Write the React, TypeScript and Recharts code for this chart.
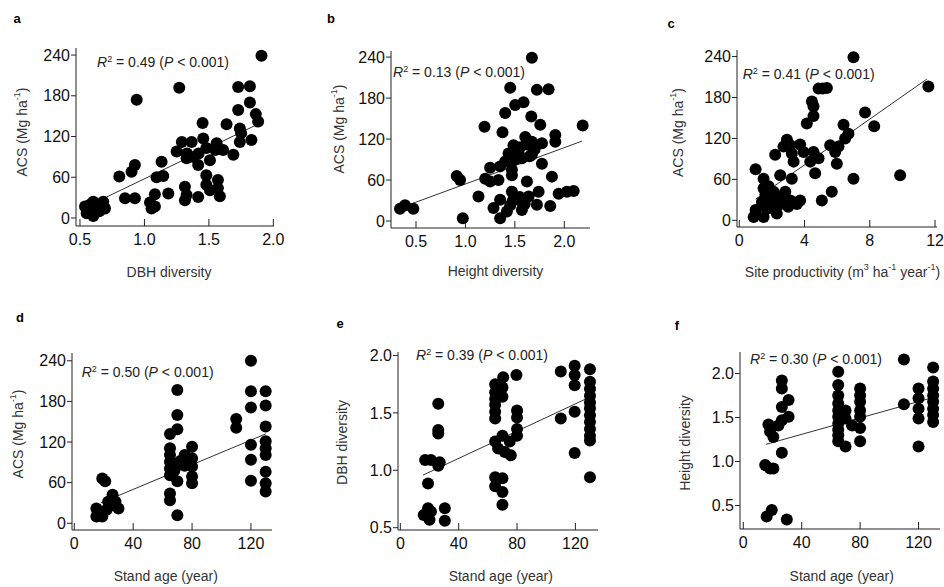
import React from 'react'
import { ScatterChart, Scatter, XAxis, YAxis, ReferenceLine, Label } from 'recharts'

type Pt = [number, number]

// a: DBH diversity vs ACS
const dbhAcs: Pt[] = [
  [1.908, 239], [1.27, 192], [0.94, 174], [1.727, 193], [1.818, 194], [1.818, 170], [1.727, 159],
  [1.864, 153], [1.882, 142], [1.451, 140], [1.637, 138], [1.74, 132], [1.75, 125], [1.83, 115],
  [1.74, 112], [1.456, 117], [1.366, 112], [1.29, 112], [1.25, 98], [1.56, 110], [1.61, 100],
  [1.69, 93], [1.48, 103], [1.508, 85], [1.417, 78], [1.327, 88], [1.133, 83], [0.926, 78],
  [0.9, 68], [0.805, 61], [1.094, 60], [1.146, 62], [1.48, 63], [1.48, 49], [1.57, 56], [1.57, 44],
  [1.508, 41], [1.585, 32], [1.314, 46], [1.327, 34], [1.417, 31], [1.314, 26], [1.185, 36],
  [1.081, 35], [1.043, 23], [1.055, 14], [0.926, 29], [0.849, 29], [0.68, 24], [0.694, 14],
  [0.603, 24], [0.539, 17], [0.552, 7], [0.603, 3], [0.616, 14], [1.081, 17], [1.33, 95],
  [1.38, 90], [1.42, 95], [1.55, 100], [0.58, 20], [0.65, 10],
]
const dbhAcsFit: Pt[] = [[0.62, 23], [1.9, 140]]

// b: height diversity vs ACS
const heightAcs: Pt[] = [
  [1.672, 239], [1.453, 195], [1.723, 192], [1.841, 193], [1.503, 170], [1.588, 174], [1.402, 158],
  [1.666, 153], [1.757, 141], [1.193, 138], [1.375, 130], [2.186, 140], [1.909, 126], [1.909, 116],
  [1.605, 123], [1.486, 111], [1.672, 116], [1.774, 114], [1.537, 101], [1.436, 99], [1.571, 92],
  [1.672, 97], [1.774, 84], [1.402, 87], [1.47, 75], [1.351, 80], [1.25, 78], [1.2, 62], [1.25, 58],
  [1.334, 60], [0.912, 66], [0.946, 60], [1.132, 36], [1.47, 67], [1.622, 58], [1.875, 65],
  [1.47, 43], [1.74, 43], [1.351, 31], [1.52, 33], [1.639, 36], [1.723, 24], [1.571, 28],
  [1.453, 23], [1.284, 19], [1.351, 4], [1.419, 14], [1.571, 16], [1.858, 22], [1.943, 40],
  [2.027, 43], [2.095, 44], [0.973, 4], [0.338, 18], [0.389, 23], [0.473, 18], [1.55, 108],
  [1.62, 112], [1.7, 105], [1.65, 95], [1.5, 90], [1.55, 35], [1.6, 25], [1.48, 30],
]
const heightAcsFit: Pt[] = [[0.45, 25], [2.18, 117]]

// c: site productivity vs ACS
const prodAcs: Pt[] = [
  [7.0, 239], [11.59, 196], [4.86, 193], [5.37, 194], [5.1, 193], [4.45, 174], [4.55, 167],
  [4.55, 153], [4.14, 142], [7.71, 158], [8.27, 138], [6.39, 140], [6.69, 127], [6.49, 120],
  [5.57, 110], [6.08, 108], [5.88, 100], [5.98, 83], [2.92, 118], [3.12, 110], [2.71, 108],
  [3.73, 111], [3.22, 98], [2.2, 96], [3.94, 100], [4.55, 100], [4.86, 91], [4.35, 86], [4.65, 69],
  [3.33, 86], [2.51, 66], [3.22, 61], [1.0, 75], [1.49, 61], [7.0, 61], [9.86, 66], [5.67, 42],
  [5.06, 29], [1.49, 47], [2.1, 42], [1.9, 32], [2.82, 42], [3.12, 29], [3.53, 24], [2.51, 24],
  [1.69, 17], [2.2, 15], [1.0, 15], [0.88, 5], [1.49, 5], [3.73, 29], [1.39, 27], [2.0, 20],
  [2.5, 35], [1.8, 50], [3.0, 20], [2.3, 10], [1.6, 38],
]
const prodAcsFit: Pt[] = [[1.0, 31], [11.5, 207]]

// d: stand age vs ACS
const ageAcs: Pt[] = [
  [120, 240], [70, 197], [120, 195], [130, 195], [130, 174], [120, 171], [70, 160], [110, 154],
  [110, 141], [70, 139], [130, 143], [65, 132], [130, 121], [130, 111], [130, 101], [120, 116],
  [120, 94], [120, 63], [130, 76], [130, 59], [130, 47], [65, 111], [65, 101], [65, 91], [65, 81],
  [65, 71], [67, 76], [70, 86], [74, 94], [75, 101], [80, 113], [80, 96], [80, 84], [80, 69],
  [80, 59], [70, 62], [65, 44], [65, 34], [70, 12], [19, 66], [21, 62], [26, 42], [28, 32],
  [30, 22], [26, 27], [22, 20], [15, 22], [15, 10], [19, 10], [18, 17], [23, 32], [68, 88],
  [72, 92], [75, 85], [68, 78],
]
const ageAcsFit: Pt[] = [[18, 30], [130, 132]]

// e: stand age vs DBH diversity
const ageDbh: Pt[] = [
  [26, 1.58], [26, 1.35], [26, 1.32], [17, 1.09], [21, 1.09], [27, 1.07], [26, 1.04], [19, 0.885],
  [16, 0.61], [19, 0.67], [21, 0.64], [20, 0.57], [30.5, 0.67], [30.5, 0.56], [70.5, 1.81],
  [79.6, 1.83], [65, 1.75], [65, 1.68], [65, 1.62], [65, 1.57], [65, 1.51], [65, 1.45], [70, 1.72],
  [70, 1.64], [80, 1.52], [80, 1.46], [80, 1.36], [80, 1.3], [70, 1.3], [75, 1.25], [65, 1.25],
  [67, 1.19], [71.6, 1.16], [75.7, 1.13], [65, 0.94], [70, 0.93], [65, 0.86], [70, 0.81], [70, 0.7],
  [110, 1.86], [119.5, 1.91], [119.5, 1.83], [119.5, 1.74], [119.5, 1.51], [119.5, 1.15],
  [110, 1.45], [130, 1.88], [130, 1.77], [130, 1.71], [130, 1.65], [130, 1.59], [130, 1.54],
  [130, 1.48], [130, 1.42], [130, 1.36], [130, 1.3], [130, 1.26], [130, 0.94],
]
const ageDbhFit: Pt[] = [[15.5, 0.958], [127, 1.62]]

// f: stand age vs height diversity
const ageHeight: Pt[] = [
  [110, 2.16], [130, 2.07], [65, 2.02], [65, 1.87], [65, 1.75], [65, 1.66], [65, 1.58], [65, 1.51],
  [65, 1.43], [65, 1.36], [65, 1.3], [65, 1.23], [70, 1.17], [70, 1.58], [70, 1.49], [74.5, 1.41],
  [80, 1.83], [80, 1.75], [80, 1.68], [80, 1.58], [80, 1.51], [80, 1.38], [80, 1.23], [110, 1.65],
  [120, 1.83], [120, 1.72], [120, 1.6], [120, 1.49], [120, 1.17], [130, 1.91], [130, 1.83],
  [130, 1.75], [130, 1.68], [130, 1.6], [130, 1.53], [130, 1.45], [26.4, 1.92], [26.4, 1.83],
  [26.4, 1.62], [31, 1.7], [31, 1.51], [26.4, 1.47], [24, 1.41], [17.2, 1.42], [18.3, 1.34],
  [20.6, 1.28], [26.4, 1.1], [15, 0.96], [18.3, 0.92], [20.6, 0.92], [19.5, 0.45], [16, 0.375],
  [29.8, 0.34],
]
const ageHeightFit: Pt[] = [[15.5, 1.195], [130, 1.728]]

const acsTicks = [0, 60, 120, 180, 240]
const diversityTicks = [0.5, 1.0, 1.5, 2.0]
const productivityTicks = [0, 4, 8, 12]
const ageTicks = [0, 40, 80, 120]

const YW = 72
const MT = 45
const MR = 16
const XH = 55
const FONT = 'Arial, "Liberation Sans", Helvetica, sans-serif'

const sup = (t: string) => (
  <tspan baselineShift="super" fontSize={9}>{t}</tspan>
)

const acsTitle = <>ACS (Mg ha{sup('-1')})</>

interface PanelProps {
  letter: string
  r2: string
  points: Pt[]
  fit: Pt[]
  box: { x0: number; y0: number; x1: number; y1: number }
  xDomain: [number, number]
  yDomain: [number, number]
  xTicks: number[]
  yTicks: number[]
  xDigits: number
  yDigits: number
  letterPos: Pt
  r2Pos: Pt
  yTitle: React.ReactNode
  yTitlePos: Pt
  xTitle: React.ReactNode
  xTitlePos: Pt
}

function Panel(p: PanelProps) {
  const left = p.box.x0 - YW
  const top = p.box.y0 - MT
  const width = p.box.x1 - p.box.x0 + YW + MR
  const height = p.box.y1 - p.box.y0 + MT + XH
  const data = p.points.map(([x, y]) => ({ x, y }))
  const lx = (v: number) => v - left
  const ly = (v: number) => v - top

  const yt = p.yTitlePos
  const xt = p.xTitlePos

  return (
    <div style={{ position: 'absolute', left, top }}>
      <ScatterChart width={width} height={height} margin={{ top: MT, right: MR, bottom: 0, left: 0 }}>
        <XAxis
          type="number"
          dataKey="x"
          domain={p.xDomain}
          ticks={p.xTicks}
          interval={0}
          allowDataOverflow
          height={XH}
          tickSize={-7}
          tickMargin={15}
          tickFormatter={(v: number) => v.toFixed(p.xDigits)}
          tick={{ fontSize: 16, fill: '#111', fontFamily: FONT }}
          axisLine={{ stroke: '#222' }}
          tickLine={{ stroke: '#222' }}
        >
          <Label
            content={() => (
              <text x={lx(xt[0])} y={ly(xt[1])} textAnchor="middle" dominantBaseline="central"
                fontSize={14} fill="#333" fontFamily={FONT}>
                {p.xTitle}
              </text>
            )}
          />
        </XAxis>
        <YAxis
          type="number"
          dataKey="y"
          domain={p.yDomain}
          ticks={p.yTicks}
          interval={0}
          allowDataOverflow
          width={YW}
          tickSize={5}
          tickMargin={1}
          tickFormatter={(v: number) => v.toFixed(p.yDigits)}
          tick={{ fontSize: 16, fill: '#111', fontFamily: FONT }}
          axisLine={{ stroke: '#222' }}
          tickLine={{ stroke: '#222' }}
        >
          <Label
            content={() => (
              <text x={lx(yt[0])} y={ly(yt[1])} transform={`rotate(-90, ${lx(yt[0])}, ${ly(yt[1])})`}
                textAnchor="middle" dominantBaseline="central" fontSize={14} fill="#333" fontFamily={FONT}>
                {p.yTitle}
              </text>
            )}
          />
        </YAxis>
        <Scatter
          data={data}
          isAnimationActive={false}
          shape={(s: any) => <circle cx={s.cx} cy={s.cy} r={6} fill="#000" />}
        />
        <ReferenceLine
          segment={[{ x: p.fit[0][0], y: p.fit[0][1] }, { x: p.fit[1][0], y: p.fit[1][1] }]}
          stroke="#333"
          strokeWidth={1}
        />
        <text x={lx(p.letterPos[0])} y={ly(p.letterPos[1])} textAnchor="middle" dominantBaseline="central"
          fontSize={13} fontWeight="bold" fill="#000" fontFamily={FONT}>
          {p.letter}
        </text>
        <text x={lx(p.r2Pos[0])} y={ly(p.r2Pos[1])} fontSize={14} fill="#222" fontFamily={FONT}>
          <tspan fontStyle="italic">R</tspan>
          {sup('2')}
          <tspan>{` = ${p.r2} (`}</tspan>
          <tspan fontStyle="italic">P</tspan>
          <tspan>{' < 0.001)'}</tspan>
        </text>
      </ScatterChart>
    </div>
  )
}

export default function App() {
  return (
    <div style={{ position: 'absolute', left: 0, top: 0, width: 944, height: 587, overflow: 'hidden', background: '#fff', fontFamily: FONT }}>
      <Panel
        letter="a" r2="0.49" points={dbhAcs} fit={dbhAcsFit}
        box={{ x0: 76, y0: 48, x1: 274, y1: 226 }}
        xDomain={[0.469, 2.005]} yDomain={[-11.8, 250.4]}
        xTicks={diversityTicks} yTicks={acsTicks} xDigits={1} yDigits={0}
        letterPos={[17, 18]} r2Pos={[97, 66.5]}
        yTitle={acsTitle} yTitlePos={[22, 132]}
        xTitle="DBH diversity" xTitlePos={[169, 272]}
      />
      <Panel
        letter="b" r2="0.13" points={heightAcs} fit={heightAcsFit}
        box={{ x0: 391, y0: 51, x1: 590, y1: 228 }}
        xDomain={[0.247, 2.26]} yDomain={[-10.2, 248.9]}
        xTicks={diversityTicks} yTicks={acsTicks} xDigits={1} yDigits={0}
        letterPos={[331, 18]} r2Pos={[393, 76.5]}
        yTitle={acsTitle} yTitlePos={[339, 129]}
        xTitle="Height diversity" xTitlePos={[495.5, 271]}
      />
      <Panel
        letter="c" r2="0.41" points={prodAcs} fit={prodAcsFit}
        box={{ x0: 737, y0: 50, x1: 937, y1: 227 }}
        xDomain={[-0.14, 12.12]} yDomain={[-9.8, 249.6]}
        xTicks={productivityTicks} yTicks={acsTicks} xDigits={0} yDigits={0}
        letterPos={[671, 23]} r2Pos={[742.7, 79]}
        yTitle={acsTitle} yTitlePos={[678, 132.5]}
        xTitle={<>Site productivity (m{sup('3')} ha{sup('-1')} year{sup('-1')})</>} xTitlePos={[842.5, 271.7]}
      />
      <Panel
        letter="d" r2="0.50" points={ageAcs} fit={ageAcsFit}
        box={{ x0: 72, y0: 353, x1: 272, y1: 530 }}
        xDomain={[-1.56, 134.3]} yDomain={[-9.9, 251.5]}
        xTicks={ageTicks} yTicks={acsTicks} xDigits={0} yDigits={0}
        letterPos={[20, 317]} r2Pos={[81.7, 376.7]}
        yTitle={acsTitle} yTitlePos={[18.3, 434]}
        xTitle="Stand age (year)" xTitlePos={[165.8, 575.8]}
      />
      <Panel
        letter="e" r2="0.39" points={ageDbh} fit={ageDbhFit}
        box={{ x0: 398, y0: 352, x1: 598, y1: 530 }}
        xDomain={[-1.6, 135.5]} yDomain={[0.48, 2.03]}
        xTicks={ageTicks} yTicks={diversityTicks} xDigits={0} yDigits={1}
        letterPos={[340, 323]} r2Pos={[416, 360]}
        yTitle="DBH diversity" yTitlePos={[341.7, 442.5]}
        xTitle="Stand age (year)" xTitlePos={[500.8, 575.8]}
      />
      <Panel
        letter="f" r2="0.30" points={ageHeight} fit={ageHeightFit}
        box={{ x0: 740, y0: 352, x1: 940, y1: 529 }}
        xDomain={[-2.26, 134.7]} yDomain={[0.233, 2.245]}
        xTicks={ageTicks} yTicks={diversityTicks} xDigits={0} yDigits={1}
        letterPos={[677, 325]} r2Pos={[750, 364]}
        yTitle="Height diversity" yTitlePos={[685, 443]}
        xTitle="Stand age (year)" xTitlePos={[841.7, 575.8]}
      />
    </div>
  )
}
